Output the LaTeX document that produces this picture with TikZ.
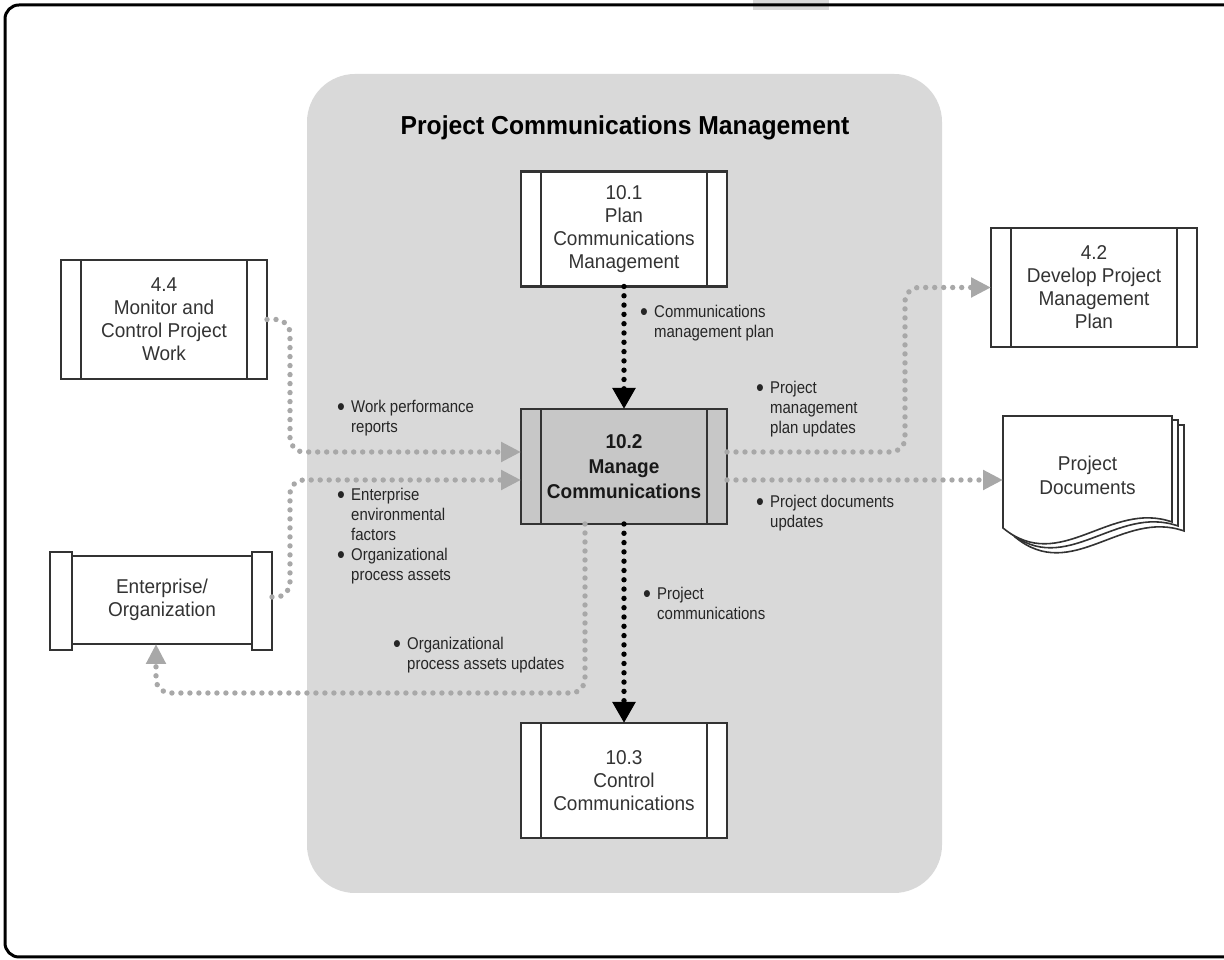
\documentclass[tikz,border=0pt]{standalone}
\usepackage{fontspec}
\setmainfont{Liberation Sans}
\newfontfamily\boxfont{Liberation Sans}[FakeStretch=0.95]
\newfontfamily\notefont{Liberation Sans}[FakeStretch=0.88]
\usetikzlibrary{arrows.meta}

\definecolor{panelgray}{gray}{0.85}
\definecolor{activegray}{gray}{0.78}
\definecolor{flowgray}{gray}{0.66}
\definecolor{linegray}{gray}{0.2}
\definecolor{textgray}{gray}{0.2}

\newcommand{\bul}{\makebox[14pt][l]{\raisebox{-2.8pt}{\scalebox{1.5}{\textbullet}}}}
\newcommand{\cont}{\hspace*{14pt}}

\begin{document}
\begin{tikzpicture}[x=1pt, y=1pt,
  process/.style={draw=linegray, line width=2.2pt, fill=white, outer sep=0pt,
    minimum width=206pt, minimum height=115pt, align=center, text=textgray,
    font=\boxfont\fontsize{20}{23}\selectfont,
    path picture={
      \draw[linegray, line width=2.2pt]
        ([xshift=\barw]path picture bounding box.north west) -- ([xshift=\barw]path picture bounding box.south west)
        ([xshift=-\barw]path picture bounding box.north east) -- ([xshift=-\barw]path picture bounding box.south east);}},
  plainbox/.style={draw=linegray, line width=2.2pt, fill=white, outer sep=0pt,
    minimum width=180pt, minimum height=88pt, align=center, text=textgray,
    font=\boxfont\fontsize{20}{23}\selectfont},
  barbox/.style={draw=linegray, line width=2.2pt, fill=white},
  page/.style={draw=linegray, line width=1.6pt, fill=white},
  note/.style={anchor=north west, align=left, inner sep=0pt, text=black!85,
    font=\notefont\fontsize{17}{20}\selectfont},
  grayflow/.style={draw=flowgray, line width=5.4pt, line cap=round,
    dash pattern=on 0pt off 9pt, rounded corners=14pt,
    -{Triangle[length=20pt,width=19pt]}},
  blackflow/.style={draw=black, line width=5.4pt, line cap=round,
    dash pattern=on 0pt off 9.3pt, -{Triangle[length=21pt,width=22pt]}}]

\def \barw {20pt}

\useasboundingbox (0,0) rectangle (1224,960);

% background panel and frame
\fill[panelgray, rounded corners=48pt] (307,67) rectangle (942,886);
\fill[panelgray] (753,950) rectangle (829,960);
\draw[line width=3pt, rounded corners=14pt] (5,3) rectangle (1240,955);

\node[font=\boxfont\bfseries\fontsize{26}{30}\selectfont] (title) at (625,832)
  {Project Communications Management};

% processes
\node[process] (plan) at (624,731) {10.1\\Plan\\Communications\\Management};
\node[process, fill=activegray, text=black!90,
  font=\boxfont\bfseries\fontsize{20}{25}\selectfont] (manage) at (624,493.5)
  {10.2\\Manage\\Communications};
\node[process] (control) at (624,179.5) {10.3\\Control\\Communications};
\node[process, minimum height=119pt] (monitor) at (164,640.5)
  {4.4\\Monitor and\\Control Project\\Work};
\node[process, minimum height=119pt] (develop) at (1094,672.5)
  {4.2\\Develop Project\\Management\\Plan};

% enterprise with its end bars
\node[plainbox] (ent) at (162,360) {Enterprise/\\Organization};
\draw[barbox] ([xshift=-22pt,yshift=4pt]ent.north west) rectangle ([yshift=-6pt]ent.south west);
\draw[barbox] ([yshift=4pt]ent.north east) rectangle ([xshift=20pt,yshift=-6pt]ent.south east);

% stacked documents
\foreach \dx/\dy in {12/-9, 6/-4, 0/0}
{
  \draw[page, shift={(\dx,\dy)}] (1003,544) -- (1172,544) -- (1172,438)
    .. controls (1110,460) and (1060,385) .. (1003,432) -- cycle;
}
\node[minimum width=169pt, minimum height=100pt, outer sep=0pt, align=center,
  text=textgray, font=\boxfont\fontsize{20}{24}\selectfont] (docs) at (1087.5,485)
  {Project\\Documents};

% flows
\draw[blackflow] (plan.south) -- (manage.north);
\draw[blackflow] (manage.south) -- (control.north);
\draw[grayflow] (monitor.east) -- ++(23,0) |- ([yshift=14.5pt]manage.west);
\draw[grayflow] ([xshift=20pt,yshift=3pt]ent.east) -- ++(18,0) |- ([yshift=-13.5pt]manage.west);
\draw[grayflow] ([yshift=14.5pt]manage.east) -- ++(178,0) |- (develop.west);
\draw[grayflow] ([yshift=-13.5pt]manage.east) -- ([yshift=-13.5pt]manage.east -| docs.west);
\draw[grayflow] ([xshift=-39pt]manage.south) -- ++(0,-169) -| ([xshift=-6pt]ent.south);

% flow labels
\node[note] (cmp) at (640,655) {\bul Communications\\\cont management plan};
\node[note] (wpr) at (337,560) {\bul Work performance\\\cont reports};
\node[note] (eef) at (337,472) {\bul Enterprise\\\cont environmental\\\cont factors};
\node[note] (opa) at (337,412) {\bul Organizational\\\cont process assets};
\node[note] (opau) at (393,323) {\bul Organizational\\\cont process assets updates};
\node[note] (pc) at (643,373) {\bul Project\\\cont communications};
\node[note] (pmpu) at (756,579) {\bul Project\\\cont management\\\cont plan updates};
\node[note] (pdu) at (756,465) {\bul Project documents\\\cont updates};
\end{tikzpicture}
\end{document}
